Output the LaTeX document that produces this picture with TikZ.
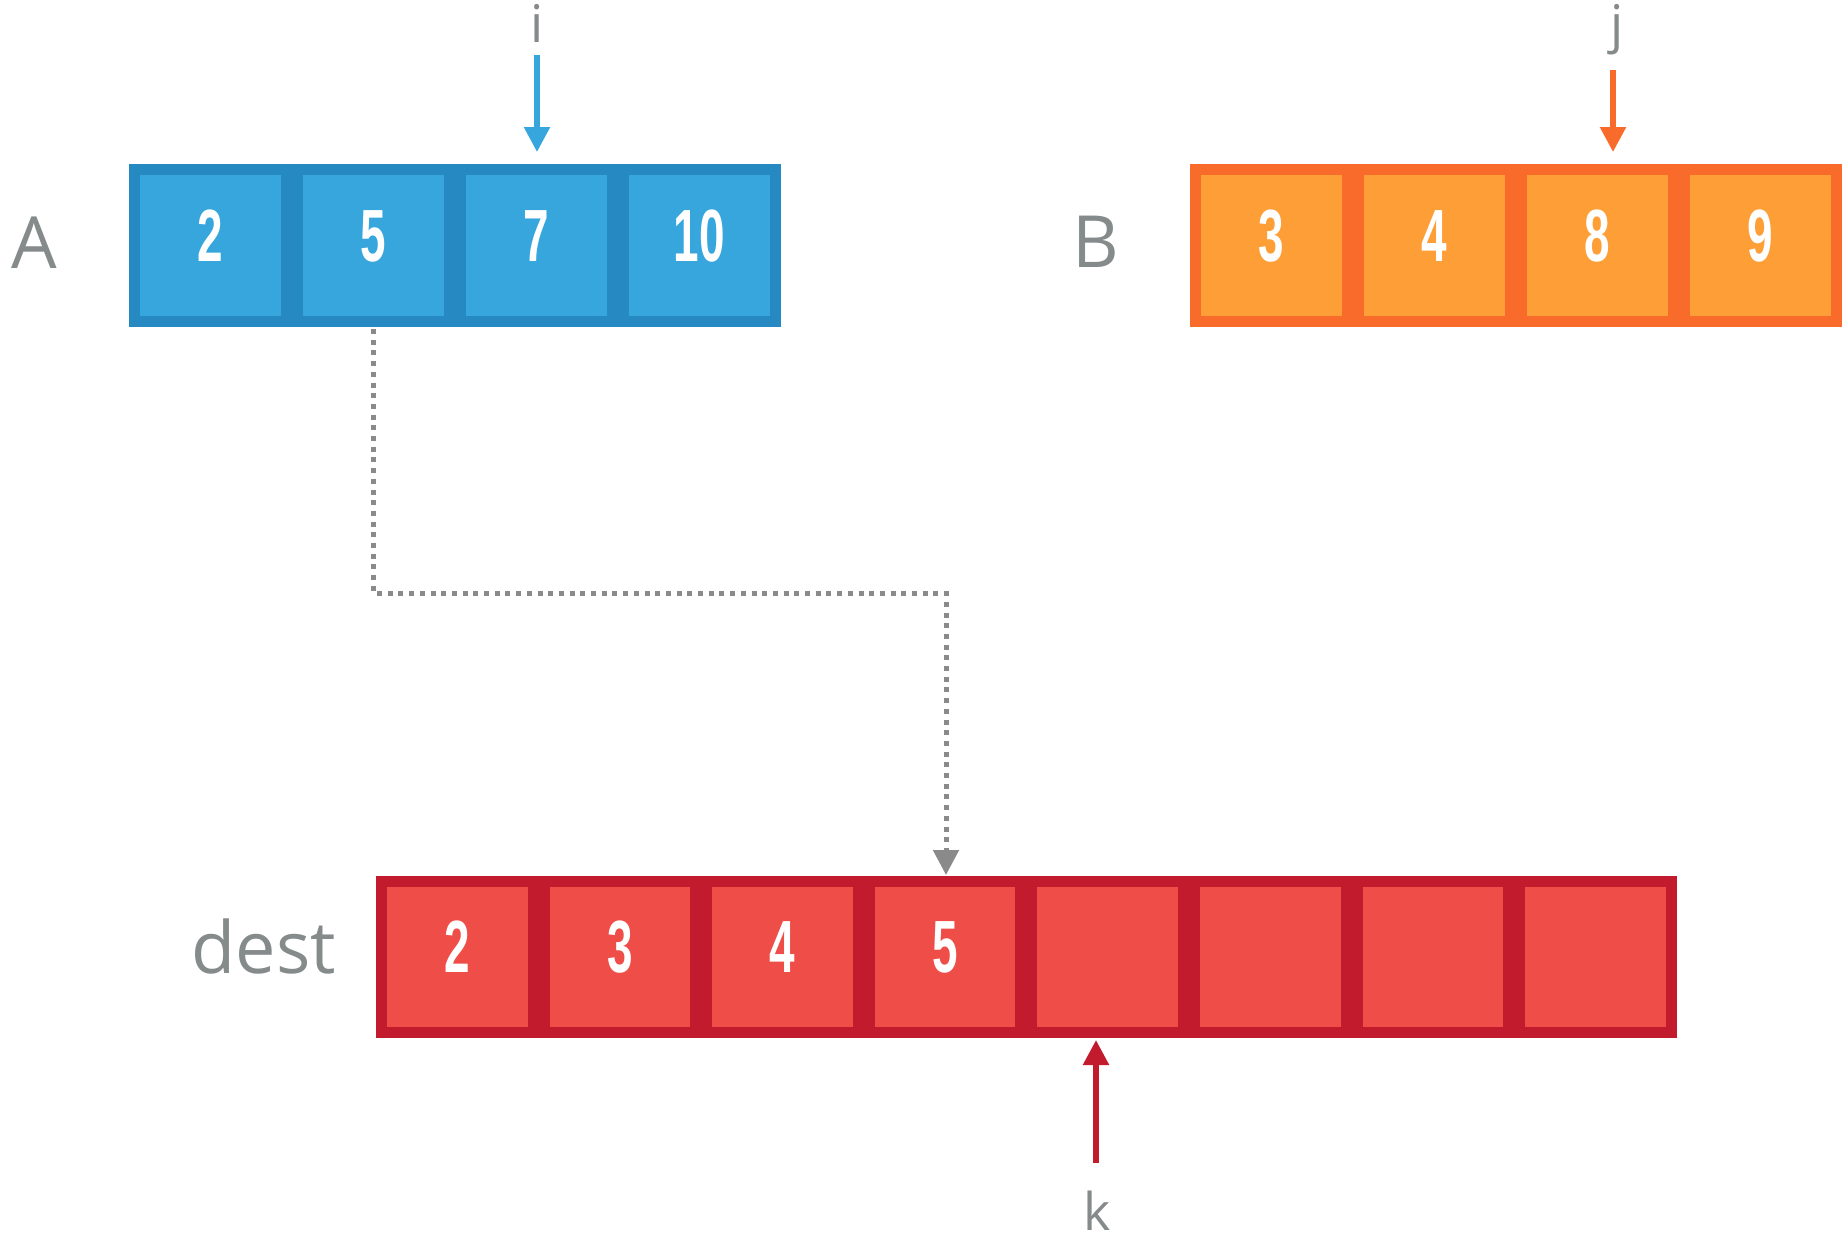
\documentclass[tikz,border=0pt]{standalone}
\usepackage{fontspec}
\usepackage{graphicx}
\setmainfont{Open Sans}
\newfontfamily\digfont{Liberation Sans}
\newcommand{\dg}[1]{\scalebox{0.62}[1]{#1}}
\usetikzlibrary{arrows.meta}
\definecolor{afill}{HTML}{37A6DC}
\definecolor{aline}{HTML}{2689C1}
\definecolor{bfill}{HTML}{FE9E36}
\definecolor{bline}{HTML}{F86B2A}
\definecolor{dfill}{HTML}{EF4E48}
\definecolor{dline}{HTML}{C31B2E}
\definecolor{labgray}{HTML}{858A8A}
\definecolor{dotgray}{HTML}{8A8A8A}
\begin{document}
\begin{tikzpicture}[x=0.5pt,y=-0.5pt,
  cell/.style={rectangle, minimum width=76pt, minimum height=76pt, inner sep=0pt, outer sep=0pt,
    line width=5.5pt, text=white, font=\digfont\bfseries\fontsize{37}{40}\selectfont,
    text height=15.5pt, text depth=0pt},
  acell/.style={cell, fill=afill, draw=aline},
  bcell/.style={cell, fill=bfill, draw=bline},
  dcell/.style={cell, fill=dfill, draw=dline, minimum width=75.8pt, minimum height=75.5pt},
  biglab/.style={text=labgray, font=\fontsize{36}{40}\selectfont, anchor=base, inner sep=0pt},
  smalllab/.style={text=labgray, font=\fontsize{26}{28}\selectfont, anchor=base, inner sep=0pt},
  ptr/.style={line width=2.7pt, -{Triangle[length=12.5pt,width=12.5pt]}},
  dotline/.style={draw=dotgray, line width=2.5pt, dash pattern=on 2.5pt off 2.85pt,
    -{Triangle[length=12.5pt,width=12.5pt]}}
]
\useasboundingbox (0,0) rectangle (1842,1239);

% array A
\foreach \v [count=\n from 0] in {2,5,7,10}
  \node[acell] (a\the\numexpr\n+1\relax) at (210.5+163*\n,245.5) {\dg{\v}};
% array B
\foreach \v [count=\n from 0] in {3,4,8,9}
  \node[bcell] (b\the\numexpr\n+1\relax) at (1271.5+163*\n,245.5) {\dg{\v}};
% dest
\foreach \v [count=\n from 0] in {2,3,4,5,{},{},{},{}}
  \node[dcell] (d\the\numexpr\n+1\relax) at (457.3+162.6*\n,957) {\dg{\v}};

% labels
\node[biglab] (labA) at (34,268) {A};
\node[biglab] (labB) at (1096,267) {B};
\node[biglab] (labdest) at (264,973) {dest};
\node[smalllab] (labi) at (537,42) {i};
\node[smalllab] (labj) at (1617,42) {j};
\node[smalllab] (labk) at (1097,1230) {k};

% pointers
\coordinate (itail) at (537,55);
\coordinate (jtail) at (1613,70);
\coordinate (ktail) at (1096,1163);
\draw[ptr, draw=afill, shorten >=8.75pt] (itail) -- (itail |- a3.north);
\draw[ptr, draw=bline, shorten >=8.75pt] (jtail) -- (jtail |- b3.north);
\draw[ptr, draw=dline, shorten >=3.75pt] (ktail) -- (ktail |- d5.south);

% dotted copy connector
\coordinate (bend) at (946,593);
\draw[dotline, shorten <=3.75pt, shorten >=3.25pt] (a2.south) |- (bend) -- (bend |- d4.north);
\end{tikzpicture}
\end{document}
